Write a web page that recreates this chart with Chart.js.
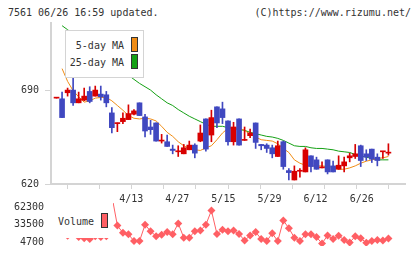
<!DOCTYPE html>
<html>
<head>
<meta charset="utf-8">
<script src="https://cdn.jsdelivr.net/npm/chart.js@4.4.0/dist/chart.umd.min.js"></script>
<style>
  body { margin: 0; background: #fff; }
  #wrap { position: relative; width: 420px; height: 259px; overflow: hidden;
          font-family: 'DejaVu Sans Mono', monospace; font-size: 10px; line-height: 12px; color: #333; }
  #wrap canvas { position: absolute; left: 0; }
  .abs { position: absolute; white-space: nowrap; }
  .sw { position: absolute; box-sizing: border-box; border: 1px solid #333; }
</style>
</head>
<body>
<div id="wrap">
  <div class="abs" style="left:8px;top:7px">7561 06/26 16:59 updated.</div>
  <div class="abs" style="right:9px;top:7px">(C)https://www.rizumu.net/</div>
  <canvas id="price" width="420" height="205" style="top:0"></canvas>
  <canvas id="volume" width="420" height="69" style="top:190px"></canvas>

  <div class="abs" style="left:65px;top:30px;width:77px;height:46px;border:1px solid #d4d4d4;background:#fff">
    <div class="abs" style="right:19px;top:9px">5-day MA</div>
    <div class="sw" style="left:65px;top:6px;width:7px;height:15px;background:#f08c14"></div>
    <div class="abs" style="right:19px;top:26px">25-day MA</div>
    <div class="sw" style="left:65px;top:23px;width:7px;height:15px;background:#14a014"></div>
  </div>

  <div class="abs" style="left:51px;top:203px;width:62px;height:35px;background:#fff">
    <div class="abs" style="left:7px;top:13px">Volume</div>
    <div class="sw" style="left:50px;top:10px;width:7px;height:15px;background:#ff5f64"></div>
  </div>
</div>
<script>
// 7561 daily candles, 61 sessions up to 06/26
var dateTicks = [10, 20, 30, 40, 50, 60];
var dateLabels = ['4/13', '4/27', '5/15', '5/29', '6/12', '6/26'];
var priceTicks = [620, 690];
var volumeTicks = [4700, 33500, 62300];

var openP = [684, 683.5, 688, 690, 680.5, 682.5, 689, 685.5, 687, 686.5,
  673, 665, 666.5, 668, 672, 680.5, 670, 662.5, 665.5, 652,
  651.5, 646, 644, 642.5, 645.5, 649, 652, 668.5, 656.5, 677.5,
  676, 667, 651.5, 668.5, 652.5, 656, 665.5, 649.5, 649, 647,
  640.5, 651.5, 630, 623, 629.5, 629, 641, 638, 632, 638,
  633.5, 631, 633.5, 639.5, 640.5, 648.5, 642.5, 646, 640, 644, 643];
var highP = [684, 688.5, 691.5, 701, 688.5, 691.5, 692.5, 693, 693, 689,
  677, 665.5, 673, 679, 675.5, 680.5, 672, 667.5, 665.5, 657,
  656.5, 649, 648.5, 649.5, 652, 650, 664, 668.5, 675, 677.5,
  681, 667, 666, 668.5, 662.5, 661, 665.5, 649.5, 650, 649,
  652, 652, 631.5, 633.5, 631.5, 647, 641, 640, 636.5, 638,
  637, 641, 640, 643, 649.5, 649, 645.5, 646, 642.5, 644, 650];
var lowP = [684, 669.5, 685.5, 678.5, 680.5, 682, 680.5, 685.5, 682.5, 677.5,
  658, 659, 665, 668, 671.5, 671, 655, 657, 652, 650.5,
  648, 642.5, 640.5, 642.5, 645.5, 639.5, 651.5, 644.5, 651.5, 662,
  665, 649, 649, 649, 652.5, 654.5, 646.5, 645.5, 643.5, 639.5,
  640.5, 631, 623, 623, 625, 629, 629, 631, 632, 627.5,
  629, 631, 629, 636.5, 639, 633, 637.5, 636, 633.5, 639, 641.5];
var closeP = [684, 669.5, 690, 680.5, 683.5, 685.5, 681.5, 690, 685, 680.5,
  662, 665.5, 669, 672.5, 674.5, 671, 659.5, 660.5, 652, 652,
  648, 645, 644, 647, 649, 643, 658, 646, 669.5, 665.5,
  669.5, 651.5, 662.5, 649, 652.5, 658, 651, 648.5, 646.5, 642.5,
  648.5, 633, 628.5, 629.5, 629.5, 645.5, 633, 631, 632, 629,
  629, 634, 636.5, 641, 642.5, 637.5, 640, 638.5, 637.5, 644, 643];
var ma5 = [null, 706, 696.5, 689.5, 685, 681, 682, 684, 684.5, 684.5,
  682, 678.5, 675, 671, 669, 668.5, 669, 668.5, 667, 663,
  658.5, 655.5, 651.5, 648.5, 646.5, 645.5, 645, 647, 648.5, 653,
  658, 661.5, 662, 661.5, 660, 657, 655, 653, 652.5, 652,
  650, 646.5, 643.5, 638, 635.5, 634, 633.5, 633.5, 633.5, 633,
  632.5, 631, 631, 632, 633.5, 635.5, 637, 638, 639, 639.5, 640.5];
var ma25 = [null, 738, 735, 732, 729, 726, 723, 719.5, 716.5, 713.5,
  710.5, 707.5, 704, 701, 698, 695, 692.5, 690, 686.5, 683.5,
  680.5, 678.5, 675.5, 673, 670.5, 668.5, 666.5, 664.5, 663, 663,
  663, 662, 661.5, 660.5, 660, 658.5, 657.5, 656.5, 655.5, 655,
  654, 652.5, 650.5, 648.5, 648, 648, 647, 646.5, 646.5, 646,
  645.5, 644.5, 644, 643.5, 642, 641, 640, 639, 638, 638, 638];
var volume = [null, null, 15200, 22400, 12800, 10900, 9500, 14200, 12800, 14200,
  82200, 32100, 20000, 17700, 6100, 6100, 33500, 22800, 14200, 16700,
  21400, 17700, 35800, 11900, 11900, 22800, 23900, 33500, 57400, 18100,
  25300, 22800, 23900, 18100, 7000, 15600, 21400, 9500, 6100, 19100,
  6100, 40700, 27700, 11900, 6100, 17700, 17700, 12800, 2300, 15600,
  9500, 15200, 8000, 3700, 14200, 10900, 3300, 6100, 8000, 7000, 10500];

var UP = '#d80000', DOWN = '#4048c0';
var ORANGE = '#f08c14', GREEN = '#14a014', PINK = '#ff5f64';
var GRAY = '#d4d4d4', TXT = '#333';
var font = { family: "'DejaVu Sans Mono', monospace", size: 10 };

var idx = openP.map(function (v, i) { return i; });
var candleColor = idx.map(function (i) { return closeP[i] >= openP[i] ? UP : DOWN; });

// the little marks under the price axis are just 12 even steps
var gridTicks = [];
for (var k = 0; k <= 11; k++) gridTicks.push(-1 + k * 64 / 11);

function fixTicks(list) {
  return function (s) { s.ticks = list.map(function (v) { return { value: v }; }); };
}
function plain(v) { return String(v); }

//PRICE
var ctx = document.getElementById('price').getContext('2d');
var price = new Chart(ctx, {
  type: 'bar',
  data: {
    datasets: [{
      label: 'body',
      data: idx.map(function (i) {
        return { x: i, y: [Math.min(openP[i], closeP[i]), Math.max(openP[i], closeP[i])] };
      }),
      backgroundColor: candleColor,
      barThickness: 5,
      minBarLength: 1,
      grouped: false,
      order: 0
    }, {
      label: 'wick',
      data: idx.map(function (i) { return { x: i, y: [lowP[i], highP[i]] }; }),
      backgroundColor: candleColor,
      barThickness: 1,
      grouped: false,
      order: 1
    }, {
      type: 'line',
      label: '5-day MA',
      data: idx.map(function (i) { return { x: i, y: ma5[i] }; }),
      borderColor: ORANGE,
      borderWidth: 1,
      pointRadius: 0,
      order: 2
    }, {
      type: 'line',
      label: '25-day MA',
      data: idx.map(function (i) { return { x: i, y: ma25[i] }; }),
      borderColor: GREEN,
      borderWidth: 1,
      pointRadius: 0,
      order: 3
    }]
  },
  options: {
    responsive: false,
    animation: false,
    layout: { padding: { top: 23, right: 15, bottom: 0, left: 0 } },
    plugins: { legend: { display: false }, tooltip: { enabled: false } },
    scales: {
      x: {
        type: 'linear', min: -1, max: 63, offset: false,
        afterBuildTicks: fixTicks(gridTicks),
        grid: { drawOnChartArea: false, drawTicks: true, tickLength: 5, color: GRAY },
        border: { color: GRAY, width: 2 },
        ticks: { display: false },
        afterFit: function (s) { s.height = 6; }
      },
      xd: {
        type: 'linear', position: 'bottom', min: -1, max: 63,
        afterBuildTicks: fixTicks(dateTicks),
        grid: { display: false, drawTicks: false },
        border: { display: false },
        ticks: {
          font: font, color: TXT, padding: 3, maxRotation: 0, autoSkip: false,
          callback: function (v, i) { return dateLabels[i]; }
        },
        afterFit: function (s) { s.height = 15; }
      },
      y: {
        min: 620, max: 740,
        afterBuildTicks: fixTicks(priceTicks),
        grid: { drawOnChartArea: false, tickLength: 6, color: GRAY },
        border: { color: GRAY, width: 2 },
        ticks: { font: font, color: TXT, padding: 6, callback: plain },
        afterFit: function (s) { s.width = 51; }
      }
    }
  }
});

//VOLUME
var ctx = document.getElementById('volume').getContext('2d');
var vol = new Chart(ctx, {
  type: 'line',
  data: {
    datasets: [{
      label: 'Volume',
      data: idx.map(function (i) { return { x: i, y: volume[i] }; }),
      borderColor: PINK,
      borderWidth: 1,
      pointStyle: 'rectRot',
      pointRadius: 4,
      pointBackgroundColor: PINK,
      pointBorderColor: PINK,
      pointBorderWidth: 0
    }]
  },
  options: {
    responsive: false,
    animation: false,
    layout: { padding: { top: 13, right: 15, bottom: 6, left: 0 } },
    plugins: { legend: { display: false }, tooltip: { enabled: false } },
    scales: {
      x: { type: 'linear', min: -1, max: 63, display: false },
      y: {
        min: -2068, max: 69932,
        afterBuildTicks: fixTicks(volumeTicks),
        grid: { display: false, drawTicks: false },
        border: { display: false },
        ticks: { font: font, color: TXT, padding: 7, callback: plain },
        afterFit: function (s) { s.width = 51; }
      }
    }
  }
});
</script>
</body>
</html>
